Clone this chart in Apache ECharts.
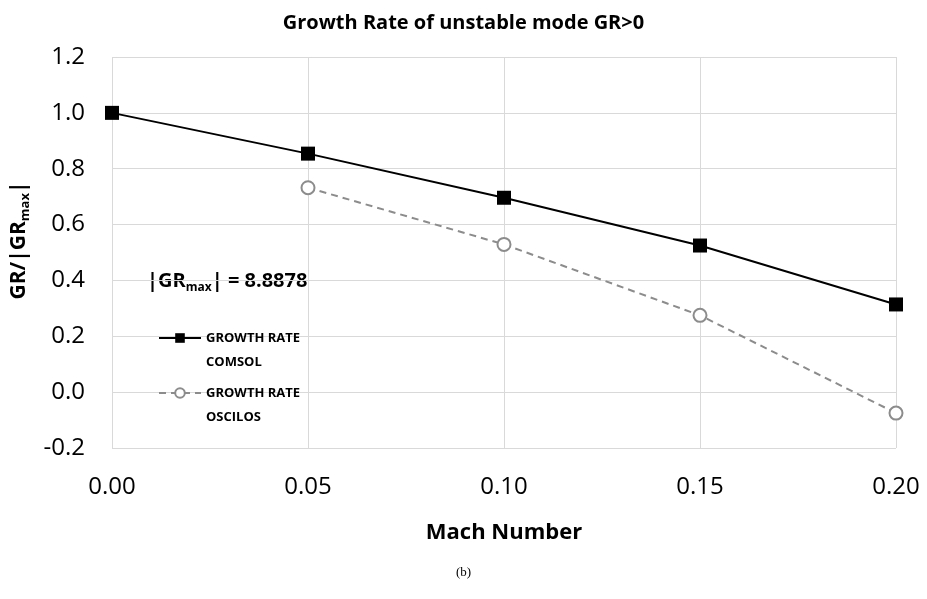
<!DOCTYPE html>
<html>
<head>
<meta charset="utf-8">
<script src="https://cdn.jsdelivr.net/npm/echarts@6/dist/echarts.min.js"></script>
<style>
  html, body { margin: 0; padding: 0; background: #fff; }
  #chart { width: 927px; height: 599px; }
</style>
</head>
<body>
<div id="chart"></div>
<script>
// 数据
const machNumbers = [0.00, 0.05, 0.10, 0.15, 0.20];
const comsolRate = [1.0, 0.854, 0.696, 0.525, 0.314];
const oscilosMach = [0.05, 0.10, 0.15, 0.20];
const oscilosRate = [0.732, 0.529, 0.275, -0.075];
const seriesNames = ['GROWTH RATE\nCOMSOL', 'GROWTH RATE\nOSCILOS'];
const grMax = '8.8878';

const font = '"Open Sans", "Liberation Sans", sans-serif';
const chart = echarts.init(document.getElementById('chart'));

chart.setOption({
  animation: false,
  title: {
    text: 'Growth Rate of unstable mode GR>0',
    left: 'center',
    top: 8,
    textStyle: { fontFamily: font, fontSize: 20, fontWeight: 'bold', color: '#000' }
  },
  grid: { left: 112, right: 31, top: 57, bottom: 151 },
  legend: {
    orient: 'vertical',
    left: 158,
    top: 302,
    padding: 0,
    itemWidth: 42,
    itemHeight: 12,
    itemGap: -17,
    data: seriesNames,
    // 空行放前面，让图标对齐第一行文字
    formatter: name => '\n' + name,
    textStyle: {
      fontFamily: font, fontSize: 13, fontWeight: 'bold', color: '#000',
      lineHeight: 24
    }
  },
  graphic: [{
    type: 'text',
    left: 147,
    top: 271,
    style: {
      text: '{a||GR}{s|max}{a|| = ' + grMax + '}',
      rich: {
        a: { fontFamily: font, fontSize: 20, fontWeight: 'bold', fill: '#000' },
        s: { fontFamily: font, fontSize: 12, fontWeight: 'bold', fill: '#000', padding: [13, 0, 0, 0] }
      }
    }
  }, {
    type: 'text',
    left: 'center',
    top: 566,
    style: { text: '(b)', fontFamily: '"Liberation Serif", serif', fontSize: 13, fill: '#000' }
  }],
  xAxis: {
    type: 'value',
    min: 0,
    max: 0.2,
    interval: 0.05,
    name: 'Mach Number',
    nameLocation: 'middle',
    nameGap: 74,
    nameTextStyle: { fontFamily: font, fontSize: 22, fontWeight: 'bold', color: '#000' },
    axisLine: { show: false },
    axisTick: { show: false },
    axisLabel: {
      fontFamily: font, fontSize: 24, color: '#000', margin: 27,
      formatter: v => v.toFixed(2)
    },
    splitLine: { show: true, lineStyle: { color: '#d9d9d9', width: 1 } }
  },
  yAxis: {
    type: 'value',
    min: -0.2,
    max: 1.2,
    interval: 0.2,
    name: '{a|GR/|GR}{s|max}{a||}',
    nameLocation: 'middle',
    nameGap: 80,
    nameRotate: 90,
    nameTextStyle: {
      padding: [0, 0, 0, 24],
      rich: {
        a: { fontFamily: font, fontSize: 21, fontWeight: 'bold', color: '#000' },
        s: { fontFamily: font, fontSize: 13, fontWeight: 'bold', color: '#000', padding: [12, 0, 0, 0] }
      }
    },
    axisLine: { show: false },
    axisTick: { show: false },
    axisLabel: {
      fontFamily: font, fontSize: 24, color: '#000', margin: 27,
      formatter: v => v.toFixed(1)
    },
    splitLine: { show: true, lineStyle: { color: '#d9d9d9', width: 1 } }
  },
  series: [
    {
      name: seriesNames[0],
      type: 'line',
      data: machNumbers.map((m, i) => [m, comsolRate[i]]),
      symbol: 'rect',
      symbolSize: 14,
      itemStyle: { color: '#000' },
      lineStyle: { color: '#000', width: 2 }
    },
    {
      name: seriesNames[1],
      type: 'line',
      data: oscilosMach.map((m, i) => [m, oscilosRate[i]]),
      symbol: 'emptyCircle',
      symbolSize: 13,
      itemStyle: { color: '#8c8c8c', borderColor: '#8c8c8c', borderWidth: 3 },
      lineStyle: { color: '#8c8c8c', width: 2, type: [7, 5] }
    }
  ]
});
</script>
</body>
</html>
